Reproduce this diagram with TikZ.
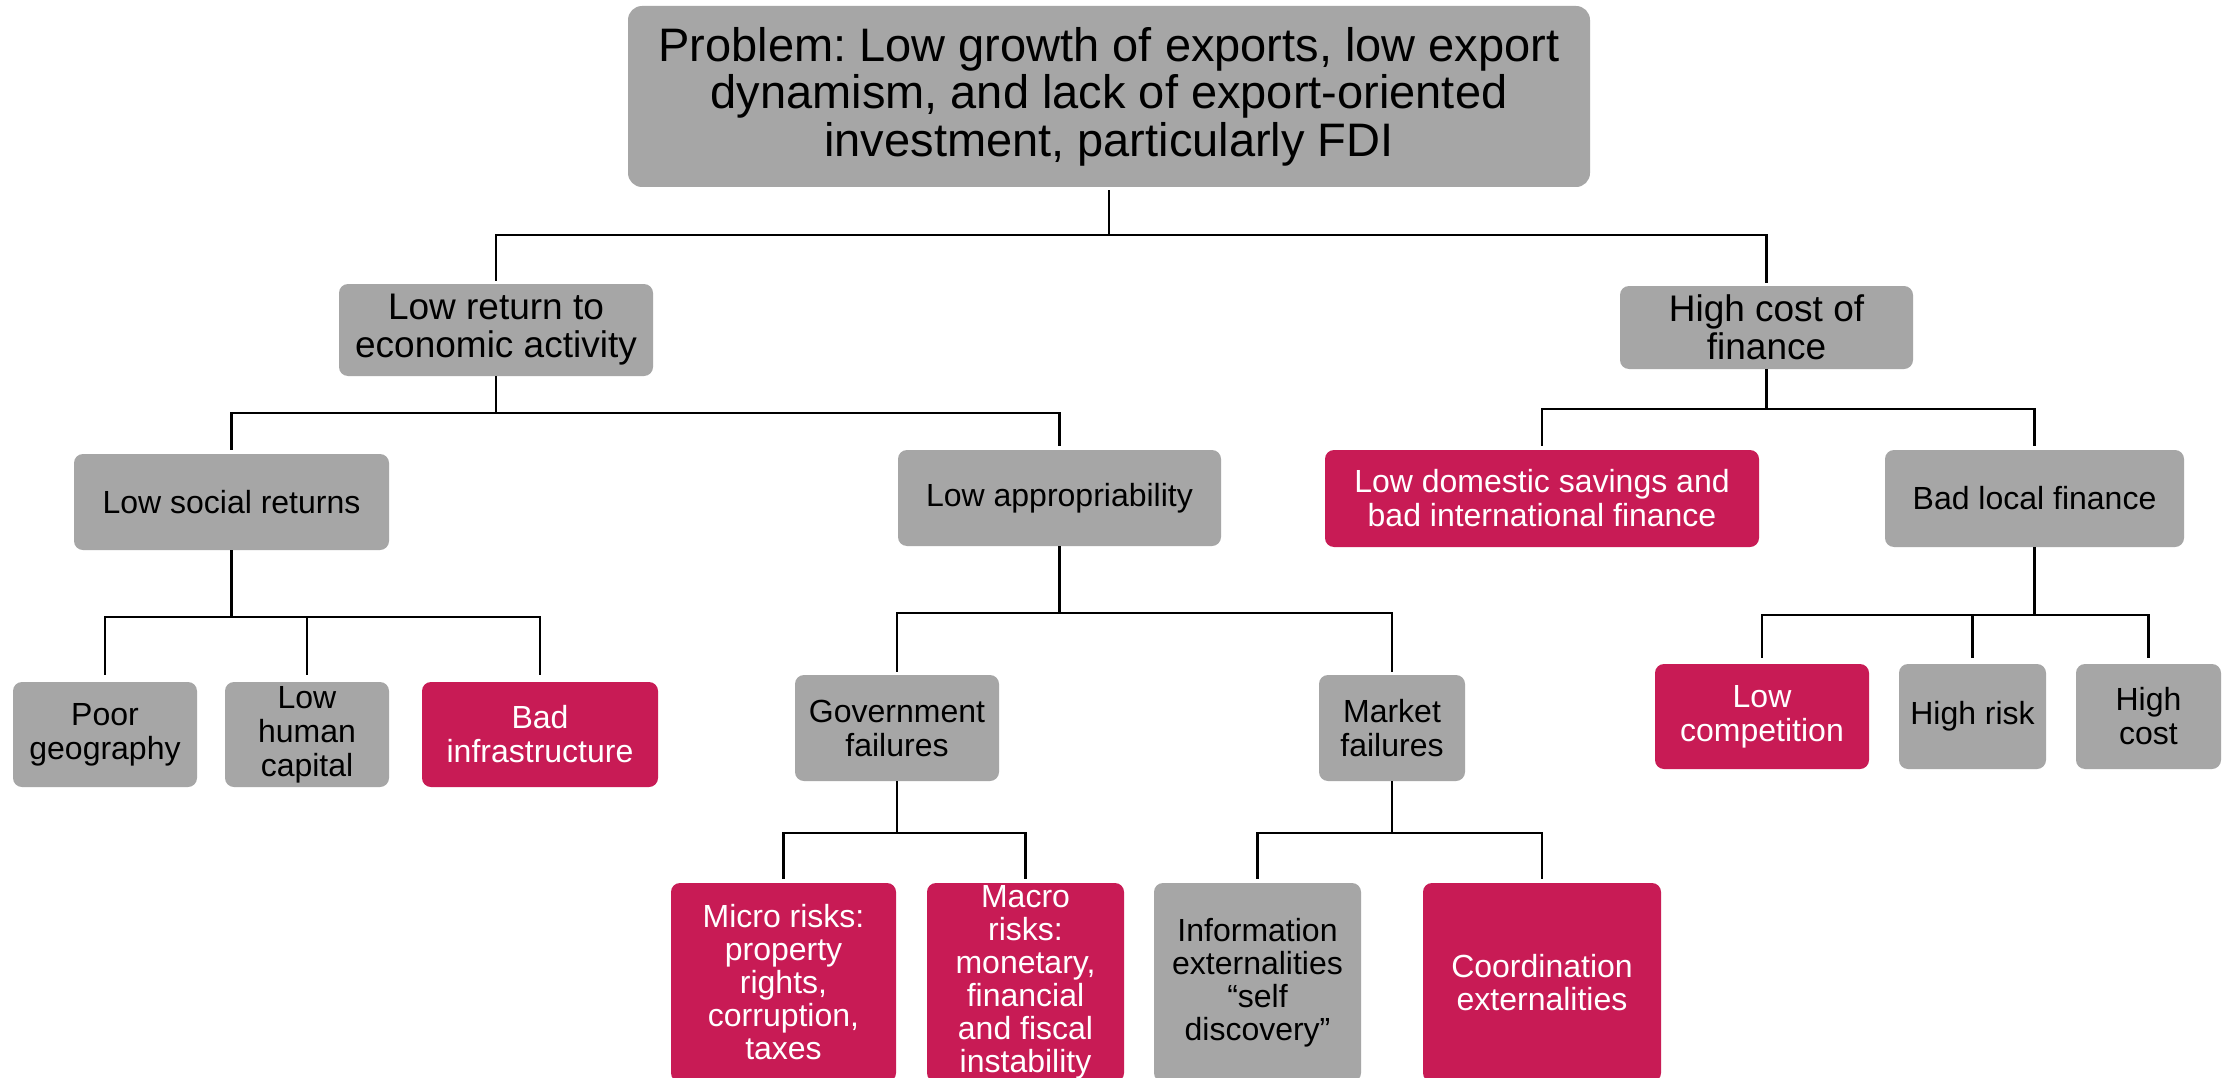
\documentclass[tikz,border=0pt]{standalone}
\usepackage{fontspec}
\setmainfont{Liberation Sans}
\frenchspacing
\definecolor{boxgray}{RGB}{166,166,166}
\definecolor{boxred}{RGB}{200,27,85}
\begin{document}
\begin{tikzpicture}[x=1pt,y=-1pt,
  base/.style={rounded corners=9pt, align=center, inner sep=0pt, font=\fontsize{32}{34}\selectfont},
  gbox/.style={base, fill=boxgray, text=black},
  rbox/.style={base, fill=boxred, text=white},
  conn/.style={line width=2.6pt, draw=black}]
\clip (0,0) rectangle (2234,1078);
\fill[white] (0,0) rectangle (2234,1078);

% level 0
\node[gbox, minimum width=962pt, minimum height=181pt, rounded corners=14pt,
      font=\fontsize{47}{47.5}\selectfont] (top) at (1109,96.5)
  {Problem: Low growth of exports, low export\\dynamism, and lack of export-oriented\\investment, particularly FDI};

% level 1
\node[gbox, minimum width=314pt, minimum height=92pt, font=\fontsize{37}{38}\selectfont] (lowret) at (496,330)
  {Low return to\\economic activity};
\node[gbox, minimum width=293pt, minimum height=83pt, font=\fontsize{37}{38}\selectfont] (highcost) at (1766.5,327.5)
  {High cost of\\finance};

% level 2
\node[gbox, minimum width=315pt, minimum height=96pt] (lowsoc) at (231.5,502) {Low social returns};
\node[gbox, minimum width=323pt, minimum height=96pt] (lowapp) at (1059.5,498) {Low appropriability};
\node[rbox, minimum width=434pt, minimum height=97pt] (lowdom) at (1542,498.5)
  {Low domestic savings and\\bad international finance};
\node[gbox, minimum width=299pt, minimum height=97pt] (badloc) at (2034.5,498.5) {Bad local finance};

% level 3
\node[gbox, minimum width=184pt, minimum height=105pt] (poor) at (105,734.5) {Poor\\geography};
\node[gbox, minimum width=164pt, minimum height=105pt] (lowhum) at (307,734.5) {Low\\human\\capital};
\node[rbox, minimum width=236pt, minimum height=105pt] (badinf) at (540,734.5) {Bad\\infrastructure};
\node[gbox, minimum width=204pt, minimum height=106pt] (gov) at (897,728) {Government\\failures};
\node[gbox, minimum width=146pt, minimum height=106pt] (mkt) at (1392,728) {Market\\failures};
\node[rbox, minimum width=214pt, minimum height=105pt] (lowcomp) at (1762,716.5) {Low\\competition};
\node[gbox, minimum width=147pt, minimum height=105pt] (highrisk) at (1972.5,716.5) {High risk};
\node[gbox, minimum width=145pt, minimum height=105pt] (highcst) at (2148.5,716.5) {High\\cost};

% level 4
\node[rbox, minimum width=225pt, minimum height=199pt, font=\fontsize{32}{33}\selectfont] (micro) at (783.5,982.5)
  {Micro risks:\\property\\rights,\\corruption,\\taxes};
\node[rbox, minimum width=197pt, minimum height=199pt, font=\fontsize{32}{33}\selectfont] (macro) at (1025.5,982.5)
  {Macro\\risks:\\monetary,\\financial\\and fiscal\\instability};
\node[gbox, minimum width=207pt, minimum height=199pt, font=\fontsize{32}{33}\selectfont] (info) at (1257.5,982.5)
  {Information\\externalities\\``self\\discovery''};
\node[rbox, minimum width=238pt, minimum height=199pt, font=\fontsize{32}{33}\selectfont] (coord) at (1542,982.5)
  {Coordination\\externalities};

% bus levels
\coordinate (b1) at (0,235);
\coordinate (b2) at (0,413);
\coordinate (b3) at (0,409);
\coordinate (b4) at (0,617);
\coordinate (b5) at (0,613);
\coordinate (b6) at (0,615);
\coordinate (b7) at (0,833);

% connectors
\draw[conn, shorten <=3pt] (top.south) -- (top.south |- b1);
\draw[conn, shorten <=3pt, shorten >=3pt] (lowret.north) -- (lowret.north |- b1) -- (highcost.north |- b1) -- (highcost.north);

\draw[conn] (lowret.south) -- (lowret.south |- b2);
\draw[conn, shorten <=4pt, shorten >=4pt] (lowsoc.north) -- (lowsoc.north |- b2) -- (lowapp.north |- b2) -- (lowapp.north);

\draw[conn] (highcost.south) -- (highcost.south |- b3);
\draw[conn, shorten <=4pt, shorten >=4pt] (lowdom.north) -- (lowdom.north |- b3) -- (badloc.north |- b3) -- (badloc.north);

\draw[conn] (lowsoc.south) -- (lowsoc.south |- b4);
\draw[conn, shorten <=7pt, shorten >=7pt] (poor.north) -- (poor.north |- b4) -- (badinf.north |- b4) -- (badinf.north);
\draw[conn, shorten <=7pt] (lowhum.north) -- (lowhum.north |- b4);

\draw[conn] (lowapp.south) -- (lowapp.south |- b5);
\draw[conn, shorten <=3pt, shorten >=3pt] (gov.north) -- (gov.north |- b5) -- (mkt.north |- b5) -- (mkt.north);

\draw[conn] (badloc.south) -- (badloc.south |- b6);
\draw[conn, shorten <=6pt, shorten >=6pt] (lowcomp.north) -- (lowcomp.north |- b6) -- (highcst.north |- b6) -- (highcst.north);
\draw[conn, shorten <=6pt] (highrisk.north) -- (highrisk.north |- b6);

\draw[conn] (gov.south) -- (gov.south |- b7);
\draw[conn, shorten <=4pt, shorten >=4pt] (micro.north) -- (micro.north |- b7) -- (macro.north |- b7) -- (macro.north);

\draw[conn] (mkt.south) -- (mkt.south |- b7);
\draw[conn, shorten <=4pt, shorten >=4pt] (info.north) -- (info.north |- b7) -- (coord.north |- b7) -- (coord.north);
\end{tikzpicture}
\end{document}
